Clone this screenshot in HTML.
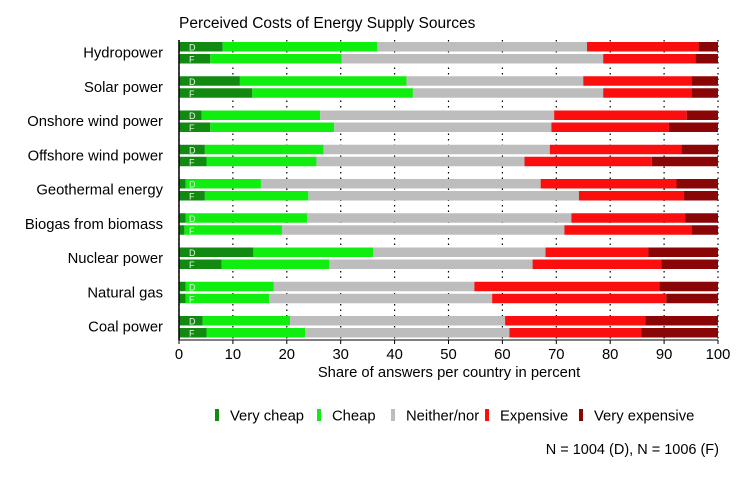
<!DOCTYPE html>
<html><head><meta charset="utf-8"><style>
body{margin:0;background:#fff;font-family:"Liberation Sans",sans-serif}
svg text{font-family:"Liberation Sans",sans-serif}
</style></head><body>
<svg id="chart" width="754" height="472">
<text x="179" y="28" font-size="15.5">Perceived Costs of Energy Supply Sources</text>
<g id="grid"></g><g id="bars"></g><g id="axis"></g><g id="legend"></g>
<text x="449" y="377" font-size="14.8" text-anchor="middle">Share of answers per country in percent</text>
<text x="719" y="454" font-size="14.5" text-anchor="end">N = 1004 (D), N = 1006 (F)</text>
</svg>
<script>
const categories=["Hydropower","Solar power","Onshore wind power","Offshore wind power","Geothermal energy","Biogas from biomass","Nuclear power","Natural gas","Coal power"];
const seriesNames=["Very cheap","Cheap","Neither/nor","Expensive","Very expensive"];
const colors=["#128a12","#10ee10","#bdbdbd","#fb0e0e","#8a0505"];
// cumulative boundaries (end of very cheap, cheap, neither, expensive)
const cumD=[[8.1,36.8,75.7,96.4],[11.3,42.2,75.0,95.1],[4.2,26.2,69.6,94.2],[4.8,26.8,68.8,93.2],[1.2,15.2,67.1,92.3],[1.2,23.8,72.8,93.9],[13.8,36.0,68.0,87.1],[1.2,17.6,54.8,89.1],[4.4,20.6,60.5,86.5]];
const cumF=[[5.8,30.2,78.7,95.8],[13.6,43.4,78.7,95.1],[5.8,28.8,69.1,90.9],[5.1,25.5,64.1,87.7],[4.8,24.0,74.2,93.7],[1.0,19.1,71.5,95.1],[7.9,27.9,65.6,89.5],[1.2,16.7,58.1,90.4],[5.1,23.4,61.3,85.8]];
const ticks=[0,10,20,30,40,50,60,70,80,90,100];
const NS="http://www.w3.org/2000/svg";
const x0=179,x1=718,yTop=40,yBot=340;
const xs=v=>x0+(x1-x0)*v/100;
const yc=i=>52+i*34.25;
function mk(t,a,p){const e=document.createElementNS(NS,t);for(const k in a)e.setAttribute(k,a[k]);p.appendChild(e);return e;}
const grid=document.getElementById('grid'),bars=document.getElementById('bars'),axis=document.getElementById('axis'),legend=document.getElementById('legend');
ticks.forEach(t=>{
 const l=mk('line',{x1:xs(t),x2:xs(t),y1:yTop,y2:yBot,stroke:'#000','stroke-width':1.2,'stroke-dasharray':'1.5,4'},grid);
 
 
 const tk=mk('line',{x1:xs(t),x2:xs(t),y1:yBot,y2:yBot+4,stroke:'#000'},axis);
 
 
 const tx=mk('text',{x:xs(t),y:yBot+19,'font-size':14.8,'text-anchor':'middle'},axis);tx.textContent=t;
 
 
});
const al=mk('line',{x1:x0,x2:x0,y1:yTop,y2:yBot,stroke:'#000','stroke-width':1.5},axis);


const bl=mk('line',{x1:x0,x2:x1,y1:yBot,y2:yBot,stroke:'#000'},axis);


categories.forEach((c,i)=>{
 const lab=mk('text',{x:163,y:yc(i)+5.5,'font-size':14.8,'text-anchor':'end'},axis);lab.textContent=c;
 
 
 [[cumD[i],'D',yc(i)-10],[cumF[i],'F',yc(i)+2]].forEach(([cum,cc,y])=>{
  const b=[0,...cum,100];
  for(let k=0;k<5;k++){
   const r=mk('rect',{x:xs(b[k]),y:y,width:xs(b[k+1])-xs(b[k]),height:9.5,fill:colors[k]},bars);
   
   
  }
  const t=mk('text',{x:189,y:y+8.5,'font-size':9,fill:'#e8f5e8'},bars);t.textContent=cc;
  
  
 });
});
const lx=[215,317,391,485,579];
seriesNames.forEach((n,k)=>{
 const r=mk('rect',{x:lx[k],y:409,width:4,height:12,fill:colors[k]},legend);
 
 
 const t=mk('text',{x:lx[k]+15,y:420.5,'font-size':14.8},legend);t.textContent=n;
 
 
});
</script>
</body></html>
